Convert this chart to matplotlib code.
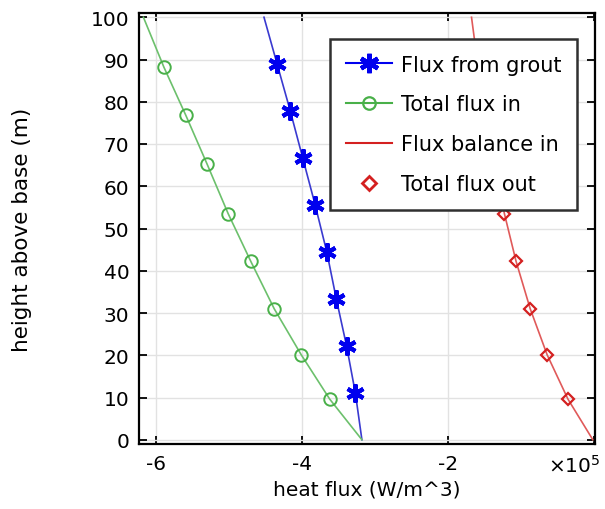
import matplotlib.pyplot as plt

# heights (m) and heat flux values (x1e5 W/m^3)
grout_h = [0, 11.1, 22.2, 33.3, 44.4, 55.6, 66.7, 77.8, 88.9, 100]
grout_q = [-3.18, -3.27, -3.39, -3.53, -3.66, -3.82, -3.99, -4.16, -4.34, -4.52]
grout_marker_h = [11.1, 22.2, 33.3, 44.4, 55.6, 66.7, 77.8, 88.9]
grout_marker_q = [-3.27, -3.39, -3.53, -3.66, -3.82, -3.99, -4.16, -4.34]

total_in_h = [0, 9.6, 20.1, 31.0, 42.2, 53.5, 65.3, 76.8, 88.2, 100]
total_in_q = [-3.18, -3.62, -4.01, -4.38, -4.70, -5.01, -5.30, -5.59, -5.89, -6.17]

balance_h = [0, 9.6, 20.1, 31.0, 42.2, 53.5, 65.3, 76.8, 88.2, 100]
balance_q = [-0.02, -0.36, -0.645, -0.877, -1.07, -1.23, -1.37, -1.49, -1.59, -1.68]

out_h = [9.6, 20.1, 31.0, 42.2, 53.5, 65.3, 76.8, 88.2]
out_q = [-0.36, -0.645, -0.877, -1.07, -1.23, -1.37, -1.49, -1.59]

x_ticks = [-6, -4, -2, 0]
x_labels = ['-6', '-4', '-2', '']
y_ticks = [0, 10, 20, 30, 40, 50, 60, 70, 80, 90, 100]

fs = 14.5

fig = plt.figure(figsize=(6.05, 5.1), dpi=100)
ax = fig.add_axes([0.2298, 0.1275, 0.7537, 0.845])

ax.plot(grout_q, grout_h, color='#3a3ad0', lw=1.2)
ax.plot(grout_marker_q, grout_marker_h, ls='none', marker=(6, 2, 0), ms=13,
        mew=3, color='#0000ee')
ax.plot(total_in_q, total_in_h, color='#6cc06c', lw=1.2)
ax.plot(total_in_q[1:-1], total_in_h[1:-1], ls='none', marker='o', ms=9,
        mfc='none', mew=1.4, color='#49b049')
ax.plot(balance_q, balance_h, color='#e05a5a', lw=1.2)
ax.plot(out_q, out_h, ls='none', marker='D', ms=6.5, mfc='none', mew=1.6,
        color='#d42020')

# legend handles
h1, = ax.plot([], [], color='#0000ee', lw=1.5, marker=(6, 2, 0), ms=14, mew=3.2)
h2, = ax.plot([], [], color='#49b049', lw=1.5, marker='o', ms=9, mfc='none', mew=1.6)
h3, = ax.plot([], [], color='#d42020', lw=1.5)
h4, = ax.plot([], [], color='#d42020', ls='none', marker='D', ms=7, mfc='none', mew=2)
leg = ax.legend([h1, h2, h3, h4],
                ['Flux from grout', 'Total flux in', 'Flux balance in', 'Total flux out'],
                loc='upper left', bbox_to_anchor=(0.419, 0.94), fontsize=15,
                fancybox=False, framealpha=1, edgecolor='#303030',
                borderpad=0.75, labelspacing=0.95, handlelength=2.2,
                handletextpad=0.45, borderaxespad=0)
leg.get_frame().set_linewidth(1.8)

ax.set_xlim(-6.23, 0.01)
ax.set_ylim(-1, 101)
ax.set_xticks(x_ticks)
ax.set_xticklabels(x_labels)
ax.set_yticks(y_ticks)
ax.tick_params(direction='in', top=True, right=True, length=6, width=1.3,
               labelsize=fs, pad=7)
ax.text(1.012, -0.064, '×10$^5$', transform=ax.transAxes, ha='right',
        va='baseline', fontsize=fs)
ax.grid(color='#e2e2e2', lw=1)
ax.set_axisbelow(True)
for s in ax.spines.values():
    s.set_linewidth(1.6)

ax.set_xlabel('heat flux (W/m^3)', fontsize=fs, labelpad=5)
ax.set_ylabel('height above base (m)', fontsize=15.5)
ax.yaxis.set_label_coords(-0.235, 0.5)

plt.savefig('out.png')
